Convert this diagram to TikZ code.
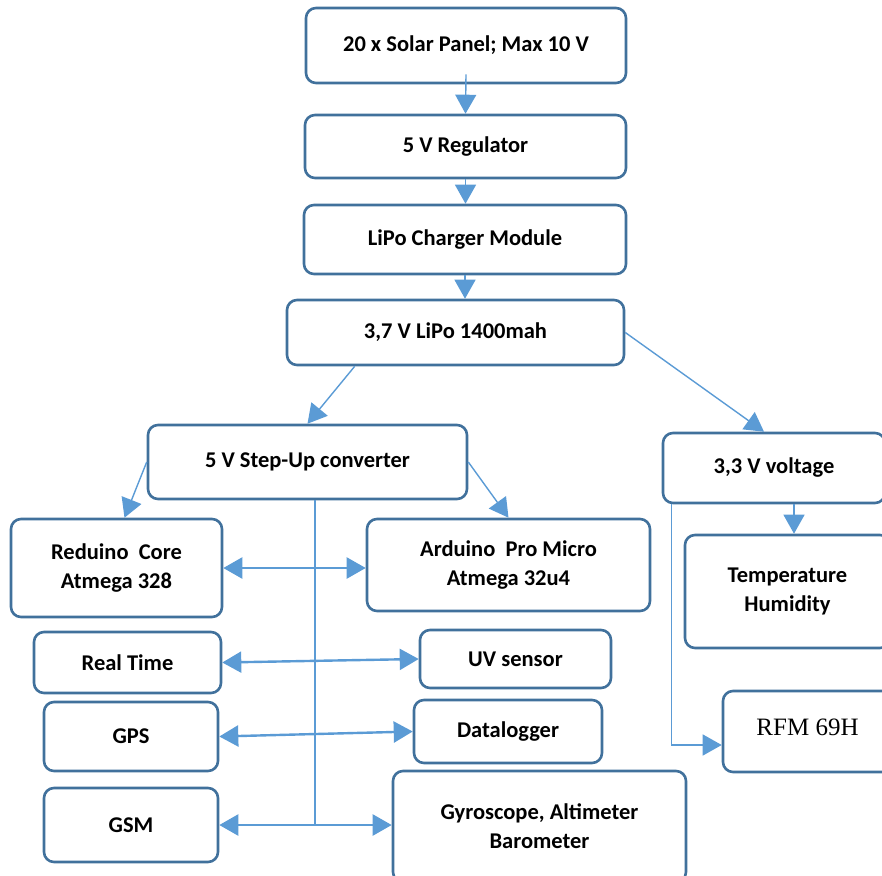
\documentclass[tikz,border=0pt]{standalone}
\usepackage{fontspec}
\setmainfont{Carlito}
\newfontfamily\timesfont{Liberation Serif}
\usetikzlibrary{arrows.meta}
\definecolor{boxline}{HTML}{41719C}
\definecolor{arrowblue}{HTML}{5B9BD5}
\begin{document}
\begin{tikzpicture}[x=1pt,y=-1pt,
  box/.style={draw=boxline, line width=2.6pt, rounded corners=10pt, fill=white,
    align=center, inner sep=0pt, font=\fontsize{22.5}{29}\selectfont\bfseries},
  conn/.style={draw=arrowblue, line width=1.4pt, -{Triangle[width=21pt,length=19pt]}},
  biconn/.style={draw=arrowblue, line width=2.4pt,
    {Triangle[width=21pt,length=19pt]}-{Triangle[width=21pt,length=19pt]}},
  bus/.style={draw=arrowblue, line width=1.4pt}]
\useasboundingbox (0,0) rectangle (882,875);

\node[box, minimum width=320pt, minimum height=75pt] (solar) at (466,45.5) {20 x Solar Panel; Max 10 V};
\node[box, minimum width=321pt, minimum height=63pt] (reg) at (465.5,146.5) {5 V Regulator};
\node[box, minimum width=322pt, minimum height=69pt] (charger) at (465,239.5) {LiPo Charger Module};
\node[box, minimum width=337pt, minimum height=65pt] (lipo) at (455.5,332.5) {3,7 V LiPo 1400mah};
\node[box, minimum width=319pt, minimum height=74pt] (stepup) at (307.5,462) {5 V Step-Up converter};
\node[box, minimum width=222pt, minimum height=70pt] (v33) at (774,468) {3,3 V voltage};
\node[box, minimum width=211pt, minimum height=98pt] (reduino) at (116.5,568) {Reduino\ \ Core\\Atmega 328};
\node[box, minimum width=283pt, minimum height=92pt] (arduino) at (508.5,565) {Arduino\ \ Pro Micro\\Atmega 32u4};
\node[box, minimum width=205pt, minimum height=113pt] (temp) at (787.5,591.5) {Temperature\\Humidity};
\node[box, minimum width=187pt, minimum height=61pt] (realtime) at (127.5,662.5) {Real Time};
\node[box, minimum width=191pt, minimum height=58pt] (uv) at (515.5,659) {UV sensor};
\node[box, minimum width=174pt, minimum height=69pt] (gps) at (131,736.5) {GPS};
\node[box, minimum width=188pt, minimum height=63pt] (datalogger) at (508,731.5) {Datalogger};
\node[box, minimum width=174pt, minimum height=74pt] (gsm) at (131,825) {GSM};
\node[box, minimum width=293pt, minimum height=111pt] (gyro) at (539.5,826.5) {Gyroscope, Altimeter\\Barometer};
\node[box, minimum width=169pt, minimum height=81pt, font=\fontsize{25}{29}\selectfont\timesfont] (rfm) at (807.5,731.5) {\raisebox{9pt}{RFM 69H}};

\coordinate (busend) at (315,825);

\draw[conn] ([yshift=10pt]solar.south) -- (reg.north);
\draw[conn] (reg.south) -- (reg.south |- charger.north);
\draw[conn] (charger.south) -- (charger.south |- lipo.north);
\draw[conn] ([xshift=69pt]lipo.south west) -- (stepup.north);
\draw[conn] (lipo.east) -- ([xshift=-10pt]v33.north);
\draw[conn] (stepup.west) -- ([xshift=8pt]reduino.north);
\draw[conn] (stepup.east) -- (arduino.north);
\draw[bus] ([xshift=7.5pt]stepup.south) -- (busend);
\draw[biconn] (reduino.east) -- (reduino.east -| arduino.west);
\draw[biconn] (realtime.east) -- (uv.west);
\draw[biconn] (gps.east) -- (datalogger.west);
\draw[biconn] (gsm.east) -- (gsm.east -| gyro.west);
\draw[conn] ([xshift=20pt]v33.south) -- ([xshift=20pt]v33.south |- temp.north);
\draw[conn] ([xshift=10pt]v33.south west) |- ([yshift=-13.5pt]rfm.west);
\end{tikzpicture}
\end{document}
